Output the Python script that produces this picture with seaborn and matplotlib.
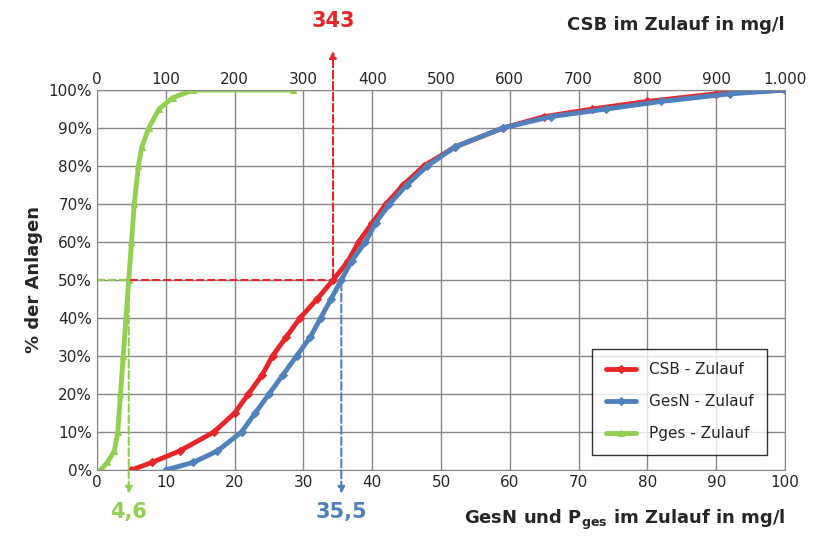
import matplotlib
matplotlib.use("Agg")
import matplotlib.pyplot as plt
import seaborn as sns
import pandas as pd

sns.set_style("white")
plt.rcParams['font.family'] = ['DejaVu Sans']

csb_pct = [0, 2, 5, 10, 15, 20, 25, 30, 35, 40, 45, 50, 55, 60, 65, 70, 75, 80, 85, 90, 93, 95, 97, 99, 100]
csb = [50, 80, 120, 170, 200, 220, 240, 255, 275, 295, 320, 343, 365, 380, 400, 420, 445, 475, 520, 590, 650, 720, 800, 900, 1000]
gesn_pct = [0, 2, 5, 10, 15, 20, 25, 30, 35, 40, 45, 50, 55, 60, 65, 70, 75, 80, 85, 90, 93, 95, 97, 99, 100]
gesn = [10, 14, 17.5, 21, 23, 25, 27, 29, 31, 32.5, 34, 35.5, 37, 39, 40.5, 42.5, 45, 48, 52, 59, 66, 74, 82, 92, 100]
pges_pct = [0, 2, 5, 10, 20, 30, 40, 50, 60, 70, 80, 85, 90, 95, 98, 100, 100]
pges = [0.5, 1.5, 2.5, 3, 3.4, 3.8, 4.2, 4.6, 5, 5.4, 6, 6.5, 7.5, 9, 11, 14, 28.5]

red, blue, green = '#E8262A', '#4F81BD', '#92D050'

fig = plt.figure(figsize=(8.16, 5.49), dpi=100)
ax = fig.add_axes([0.119, 0.144, 0.843, 0.692])

df_c = pd.DataFrame({'x': [v / 10 for v in csb], 'y': csb_pct})
df_g = pd.DataFrame({'x': gesn, 'y': gesn_pct})
df_p = pd.DataFrame({'x': pges, 'y': pges_pct})
sns.lineplot(data=df_c, x='x', y='y', ax=ax, color=red, lw=3.5, marker='D', ms=4, mec=red, label='CSB - Zulauf', sort=False)
sns.lineplot(data=df_g, x='x', y='y', ax=ax, color=blue, lw=3.5, marker='D', ms=4, mec=blue, label='GesN - Zulauf', sort=False)
sns.lineplot(data=df_p, x='x', y='y', ax=ax, color=green, lw=3.5, marker='^', ms=4, mec=green, label='Pges - Zulauf', sort=False)

ax.set_xlim(0, 100)
ax.set_ylim(0, 100)
ax.set_xticks(range(0, 101, 10))
ax.set_yticks(range(0, 101, 10))
ax.set_yticklabels([f'{v}%' for v in range(0, 101, 10)])
ax.grid(True, color='#888888', lw=1)
for s in ax.spines.values():
    s.set_color('#888888')
ax.tick_params(labelsize=11, length=0)
ax.set_xlabel('')
ax.set_ylabel('% der Anlagen', fontsize=13, fontweight='bold')

top = ax.twiny()
top.set_xlim(0, 1000)
top.set_xticks(range(0, 1001, 100))
top.set_xticklabels([('1.000' if v == 1000 else str(v)) for v in range(0, 1001, 100)])
top.tick_params(labelsize=11, length=0, pad=2)
for s in top.spines.values():
    s.set_visible(False)

ax.plot([0, 34.3], [50, 50], ls='--', color=red, lw=1.5)
ax.plot([0, 4.6], [50, 50], ls='--', color=green, lw=1.5)
ax.annotate('', xy=(34.3, 111), xytext=(34.3, 50), annotation_clip=False,
            arrowprops=dict(arrowstyle='-|>', color=red, lw=1.5, ls='--'))
ax.text(34.3, 115.5, '343', color=red, fontsize=15, fontweight='bold', ha='center', va='bottom', clip_on=False)
ax.annotate('', xy=(35.5, -7), xytext=(35.5, 50), annotation_clip=False,
            arrowprops=dict(arrowstyle='-|>', color=blue, lw=1.5, ls='--'))
ax.text(35.5, -8.5, '35,5', color=blue, fontsize=15, fontweight='bold', ha='center', va='top', clip_on=False)
ax.annotate('', xy=(4.6, -7), xytext=(4.6, 50), annotation_clip=False,
            arrowprops=dict(arrowstyle='-|>', color=green, lw=1.5, ls='--'))
ax.text(4.6, -8.5, '4,6', color=green, fontsize=15, fontweight='bold', ha='center', va='top', clip_on=False)

ax.text(100, -10, r'GesN und P$_{\mathbf{ges}}$ im Zulauf in mg/l', fontsize=13, fontweight='bold',
        ha='right', va='top', clip_on=False)
fig.text(0.962, 0.97, 'CSB im Zulauf in mg/l', fontsize=13, fontweight='bold', ha='right', va='top')

leg = ax.legend(loc='lower right', bbox_to_anchor=(0.985, 0.02), fontsize=11, frameon=True,
                fancybox=False, edgecolor='black', borderpad=0.9, labelspacing=1.1)
leg.get_frame().set_linewidth(1)

fig.savefig('out.png', dpi=100, facecolor='white')
